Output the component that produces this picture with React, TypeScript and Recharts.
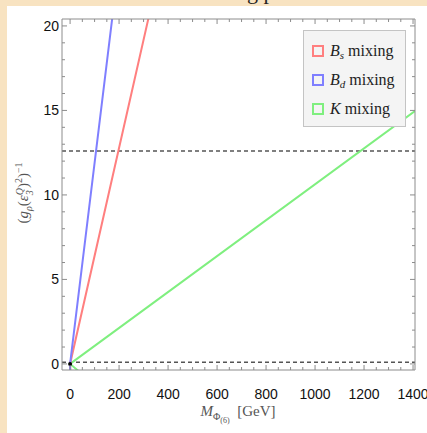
import { Line, LineChart, ReferenceDot, ReferenceLine, XAxis, YAxis } from 'recharts';

// series: x = mass in GeV, y = (g_rho (eps3^Q)^2)^-1
const bsMass = [1, 0, 330];
const bsValue = [-0.5, 0, 21.1];
const bdMass = [0.5, 0, 180];
const bdValue = [-0.5, 0, 21.4];
const kMass = [33, 0, 1420];
const kValue = [-0.4, 0, 15.1];

const boundUpper = 12.6;
const boundLower = 0.1;

const xMajor = [0, 200, 400, 600, 800, 1000, 1200, 1400];
const yMajor = [0, 5, 10, 15, 20];
const xTicks = Array.from({ length: 29 }, (_, i) => i * 50);
const yTicks = Array.from({ length: 21 }, (_, i) => i);

const xDomain = [-33, 1408];
const yDomain = [-0.36, 20.41];

const toRows = (xs: number[], ys: number[]) => xs.map((m, i) => ({ m, v: ys[i] }));
const bsData = toRows(bsMass, bsValue);
const bdData = toRows(bdMass, bdValue);
const kData = toRows(kMass, kValue);

const frame = '#8c8c8c';
const labelFont = '"Liberation Sans", Arial, sans-serif';
const serif = '"Liberation Serif", "Times New Roman", serif';
const small = { fontSize: 10, lineHeight: 0 };

const legendItems = [
  { color: '#ff7f7f', main: 'B', sub: 's' },
  { color: '#7f7fff', main: 'B', sub: 'd' },
  { color: '#7fef7f', main: 'K', sub: '' },
];

const BottomTick = ({ x, y, payload }: any) => {
  const major = xMajor.includes(payload.value);
  return (
    <g>
      <line x1={x} x2={x} y1={y} y2={y - (major ? 5 : 3)} stroke={frame} />
      {major && (
        <text x={x} y={y + 29} textAnchor="middle" fontSize={14} fontFamily={labelFont} fill="#111">
          {payload.value}
        </text>
      )}
    </g>
  );
};

const TopTick = ({ x, y, payload }: any) => {
  const major = xMajor.includes(payload.value);
  return <line x1={x} x2={x} y1={y} y2={y + (major ? 5 : 3)} stroke={frame} />;
};

const LeftTick = ({ x, y, payload }: any) => {
  const major = yMajor.includes(payload.value);
  return (
    <g>
      <line x1={x} x2={x + (major ? 5 : 3)} y1={y} y2={y} stroke={frame} />
      {major && (
        <text x={x - 3} y={y + 5} textAnchor="end" fontSize={14} fontFamily={labelFont} fill="#111">
          {payload.value}
        </text>
      )}
    </g>
  );
};

const RightTick = ({ x, y, payload }: any) => {
  const major = yMajor.includes(payload.value);
  return <line x1={x} x2={x - (major ? 5 : 3)} y1={y} y2={y} stroke={frame} />;
};

export default function App() {
  return (
    <div style={{ position: 'fixed', left: 0, top: 0, width: 427, height: 433, background: '#f8e3c1', overflow: 'hidden' }}>
      <div style={{ position: 'absolute', left: 7, top: 6, right: 0, bottom: 0, background: '#ffffff' }} />
      <div
        style={{
          position: 'absolute',
          left: 230,
          top: -21,
          fontFamily: serif,
          fontSize: 22,
          color: '#222',
          whiteSpace: 'nowrap',
        }}
      >
        ing plo
      </div>
      <div style={{ position: 'absolute', left: 0, top: 0 }}>
        <LineChart width={427} height={433} margin={{ top: 0, right: 0, bottom: 23, left: 2 }}>
          <XAxis
            xAxisId="bottom"
            dataKey="m"
            type="number"
            domain={xDomain}
            allowDataOverflow
            ticks={xTicks}
            interval={0}
            height={40}
            tickSize={0}
            tickMargin={0}
            tickLine={false}
            axisLine={{ stroke: frame }}
            tick={<BottomTick />}
          />
          <XAxis
            xAxisId="top"
            orientation="top"
            dataKey="m"
            type="number"
            domain={xDomain}
            allowDataOverflow
            ticks={xTicks}
            interval={0}
            height={19}
            tickSize={0}
            tickMargin={0}
            tickLine={false}
            axisLine={{ stroke: frame }}
            tick={<TopTick />}
          />
          <YAxis
            yAxisId="left"
            type="number"
            domain={yDomain}
            allowDataOverflow
            ticks={yTicks}
            interval={0}
            width={60}
            tickSize={0}
            tickMargin={0}
            tickLine={false}
            axisLine={{ stroke: frame }}
            tick={<LeftTick />}
          />
          <YAxis
            yAxisId="right"
            orientation="right"
            type="number"
            domain={yDomain}
            allowDataOverflow
            ticks={yTicks}
            interval={0}
            width={12}
            tickSize={0}
            tickMargin={0}
            tickLine={false}
            axisLine={{ stroke: frame }}
            tick={<RightTick />}
          />
          <ReferenceLine xAxisId="bottom" yAxisId="left" y={boundUpper} stroke="#555" strokeWidth={1.6} strokeDasharray="4 3" />
          <ReferenceLine xAxisId="bottom" yAxisId="left" y={boundLower} stroke="#555" strokeWidth={1.6} strokeDasharray="4 3" />
          <Line xAxisId="bottom" yAxisId="left" data={kData} dataKey="v" stroke={legendItems[2].color} strokeWidth={2} dot={false} isAnimationActive={false} />
          <Line xAxisId="bottom" yAxisId="left" data={bsData} dataKey="v" stroke={legendItems[0].color} strokeWidth={2} dot={false} isAnimationActive={false} />
          <Line xAxisId="bottom" yAxisId="left" data={bdData} dataKey="v" stroke={legendItems[1].color} strokeWidth={2} dot={false} isAnimationActive={false} />
          <ReferenceDot xAxisId="bottom" yAxisId="left" x={0} y={0} r={2} fill="#000" stroke="none" />
        </LineChart>
      </div>

      <div
        style={{
          position: 'absolute',
          left: 303,
          top: 30,
          width: 101,
          height: 95,
          background: '#f4f4f4',
          border: '1px solid #c4c4c4',
          fontFamily: serif,
          fontSize: 16,
          color: '#222',
        }}
      >
        {legendItems.map((it, i) => (
          <div key={i} style={{ position: 'absolute', left: 8, top: 11 + i * 29, height: 18, display: 'flex', alignItems: 'center', whiteSpace: 'nowrap' }}>
            <span style={{ width: 8, height: 8, border: `2px solid ${it.color}`, marginRight: 6, display: 'inline-block' }} />
            <span style={{ fontStyle: 'italic' }}>{it.main}</span>
            {it.sub && <span style={{ fontStyle: 'italic', fontSize: 11, position: 'relative', top: 4 }}>{it.sub}</span>}
            <span>&nbsp;mixing</span>
          </div>
        ))}
      </div>

      <div
        style={{
          position: 'absolute',
          left: 25,
          top: 193,
          transform: 'translate(-50%, -50%) rotate(-90deg)',
          fontFamily: serif,
          fontSize: 15,
          lineHeight: '16px',
          color: '#555',
          whiteSpace: 'nowrap',
        }}
      >
        (<i>g</i>
        <sub style={small}>
          <i>ρ</i>
        </sub>
        (<i>ε</i>
        <span style={{ display: 'inline-flex', flexDirection: 'column', verticalAlign: 'middle', fontSize: 10, lineHeight: '10px', fontStyle: 'italic' }}>
          <span>Q</span>
          <span>3</span>
        </span>
        )<sup style={small}>2</sup>)<sup style={small}>−1</sup>
      </div>

      <div
        style={{
          position: 'absolute',
          left: 238,
          top: 403,
          transform: 'translateX(-50%)',
          fontFamily: serif,
          fontSize: 15,
          lineHeight: '16px',
          color: '#555',
          whiteSpace: 'nowrap',
        }}
      >
        <i>M</i>
        <sub style={small}>
          Φ<sub style={{ fontSize: 8, lineHeight: 0 }}>(6)</sub>
        </sub>
        &nbsp;&nbsp;[GeV]
      </div>
    </div>
  );
}
